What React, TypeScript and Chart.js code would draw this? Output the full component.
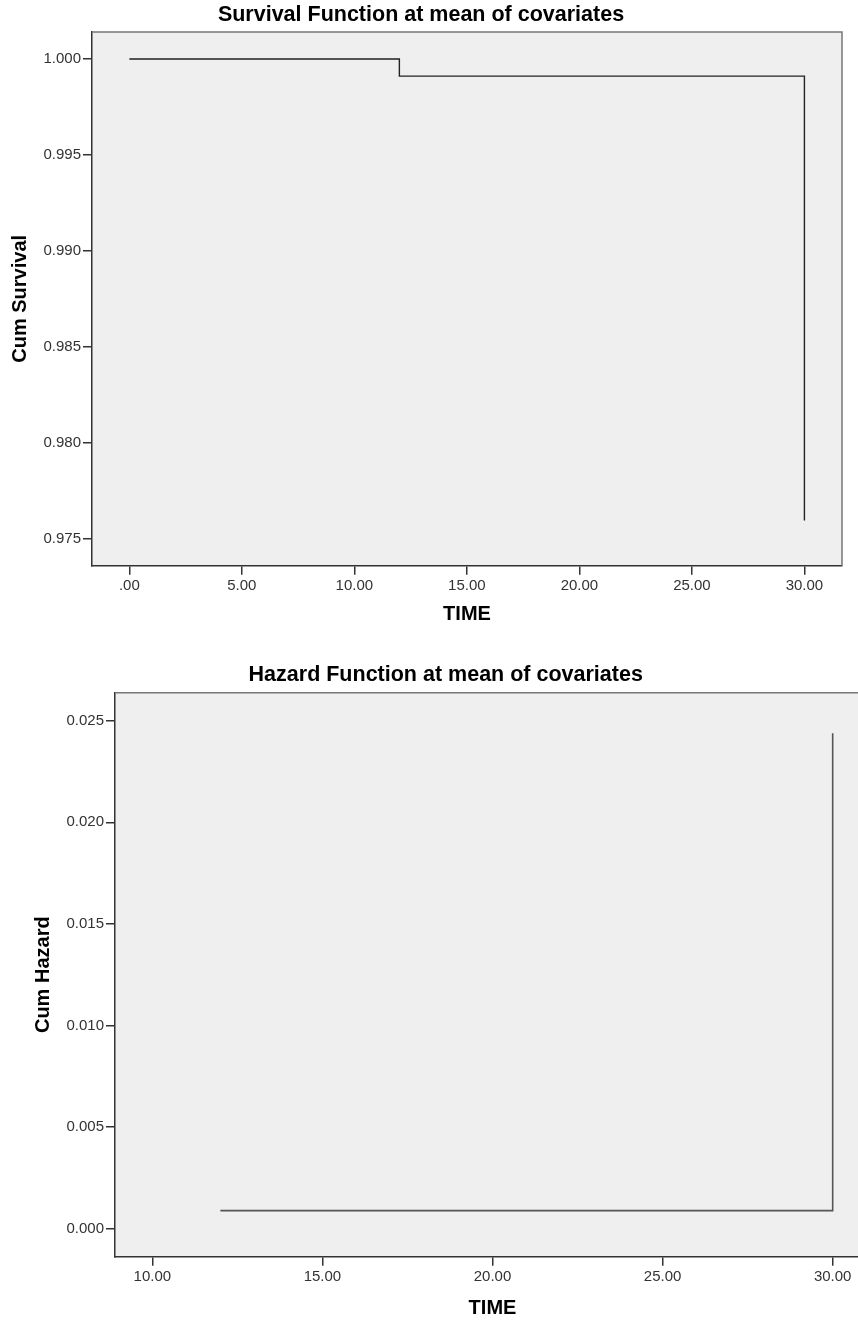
import React, { useEffect, useRef } from "react";
import { Chart, registerables } from "chart.js";

Chart.register(...registerables);

// ---- Data ----
const survivalTimes = [0, 12, 30];
const survivalValues = [1.0, 0.99911, 0.97595];
const hazardTimes = [12, 30];
const hazardValues = [0.00089, 0.02438];

const survivalXTicks = [0, 5, 10, 15, 20, 25, 30];
const survivalYTicks = [0.975, 0.98, 0.985, 0.99, 0.995, 1.0];
const hazardXTicks = [10, 15, 20, 25, 30];
const hazardYTicks = [0.0, 0.005, 0.01, 0.015, 0.02, 0.025];

const FONT = "'Liberation Sans', Arial, Helvetica, sans-serif";

const plotFrame = {
  id: "plotFrame",
  beforeDraw(chart: any) {
    const { ctx, chartArea: a } = chart;
    ctx.save();
    ctx.fillStyle = "#efefef";
    ctx.fillRect(a.left, a.top, a.right - a.left, a.bottom - a.top);
    ctx.restore();
  },
  beforeDatasetsDraw(chart: any) {
    const { ctx, chartArea: a } = chart;
    ctx.save();
    ctx.strokeStyle = "#777";
    ctx.lineWidth = 1.5;
    ctx.beginPath();
    ctx.moveTo(a.left, a.top);
    ctx.lineTo(a.right, a.top);
    ctx.lineTo(a.right, a.bottom);
    ctx.stroke();
    ctx.restore();
  },
};

function fmtX(v: number) {
  return v === 0 ? ".00" : v.toFixed(2);
}

function makeConfig(p: any) {
  return {
    type: "line",
    data: {
      datasets: [
        {
          data: p.xs.map((x: number, i: number) => ({ x, y: p.ys[i] })),
          stepped: "before",
          borderColor: p.lineColor,
          borderWidth: p.lineWidth,
          pointRadius: 0,
          fill: false,
        },
      ],
    },
    options: {
      responsive: false,
      animation: false,
      devicePixelRatio: 1,
      layout: { padding: p.layoutPadding },
      plugins: {
        legend: { display: false },
        tooltip: { enabled: false },
        title: {
          display: true,
          text: p.title,
          color: "#000",
          font: { family: FONT, size: 21.5, weight: "bold" },
          padding: p.titlePadding,
        },
      },
      scales: {
        x: {
          type: "linear",
          min: p.xMin,
          max: p.xMax,
          afterBuildTicks: (s: any) => {
            s.ticks = p.xTicks.map((v: number) => ({ value: v }));
          },
          afterFit: (s: any) => {
            s.height = p.xHeight;
          },
          ticks: {
            color: "#333",
            font: { family: FONT, size: 15 },
            padding: 2,
            maxRotation: 0,
            autoSkip: false,
            callback: (v: number) => fmtX(v),
          },
          grid: {
            drawOnChartArea: false,
            drawTicks: true,
            tickLength: 9,
            color: "#333",
            lineWidth: 1.5,
          },
          border: { display: true, color: "#333", width: 1.5 },
          title: {
            display: true,
            text: "TIME",
            color: "#000",
            font: { family: FONT, size: 20, weight: "bold" },
            padding: { top: 0, bottom: p.xTitlePad },
          },
        },
        y: {
          type: "linear",
          min: p.yMin,
          max: p.yMax,
          afterBuildTicks: (s: any) => {
            s.ticks = p.yTicks.map((v: number) => ({ value: v }));
          },
          afterFit: (s: any) => {
            s.width = p.yWidth;
          },
          ticks: {
            color: "#333",
            font: { family: FONT, size: 15 },
            padding: 2,
            autoSkip: false,
            callback: (v: number) => v.toFixed(3),
          },
          grid: {
            drawOnChartArea: false,
            drawTicks: true,
            tickLength: 9,
            color: "#333",
            lineWidth: 1.5,
          },
          border: { display: true, color: "#333", width: 1.5 },
          title: {
            display: true,
            text: p.yTitle,
            color: "#000",
            font: { family: FONT, size: 20, weight: "bold" },
            padding: { top: p.yTitlePad, bottom: 0 },
          },
        },
      },
    },
    plugins: [plotFrame],
  };
}

function ChartCanvas(props: { config: any; width: number; height: number; top: number }) {
  const ref = useRef<HTMLCanvasElement | null>(null);
  useEffect(() => {
    if (!ref.current) return;
    const chart = new Chart(ref.current, props.config);
    return () => chart.destroy();
  }, []);
  return (
    <canvas
      ref={ref}
      width={props.width}
      height={props.height}
      style={{
        position: "absolute",
        left: 0,
        top: props.top,
        width: props.width,
        height: props.height,
        display: "block",
      }}
    />
  );
}

const survivalConfig = makeConfig({
  xs: survivalTimes,
  ys: survivalValues,
  title: "Survival Function at mean of covariates",
  titlePadding: { top: 2.6, bottom: 3.6 },
  yTitle: "Cum Survival",
  yTitlePad: 8,
  xTitlePad: 14,
  layoutPadding: { left: 0, right: 16, top: 0, bottom: 0 },
  xMin: -1.66,
  xMax: 31.67,
  yMin: 0.973593,
  yMax: 1.001407,
  xTicks: survivalXTicks,
  yTicks: survivalYTicks,
  yWidth: 92,
  xHeight: 74.3,
  lineColor: "#222",
  lineWidth: 1.4,
});

const hazardConfig = makeConfig({
  xs: hazardTimes,
  ys: hazardValues,
  title: "Hazard Function at mean of covariates",
  titlePadding: { top: 22.4, bottom: 4.5 },
  yTitle: "Cum Hazard",
  yTitlePad: 9.6,
  xTitlePad: 1,
  layoutPadding: { left: 21.4, right: 30, top: 0, bottom: 0 },
  xMin: 8.903,
  xMax: 31.097,
  yMin: -0.001378,
  yMax: 0.026378,
  xTicks: hazardXTicks,
  yTicks: hazardYTicks,
  yWidth: 93.6,
  xHeight: 64.3,
  lineColor: "#555",
  lineWidth: 1.6,
});

export default function App() {
  return (
    <div
      style={{
        position: "fixed",
        left: 0,
        top: 0,
        width: 858,
        height: 1321,
        overflow: "hidden",
        background: "#fff",
      }}
    >
      <ChartCanvas config={survivalConfig} width={858} height={640} top={0} />
      <ChartCanvas config={hazardConfig} width={900} height={681} top={640} />
    </div>
  );
}
